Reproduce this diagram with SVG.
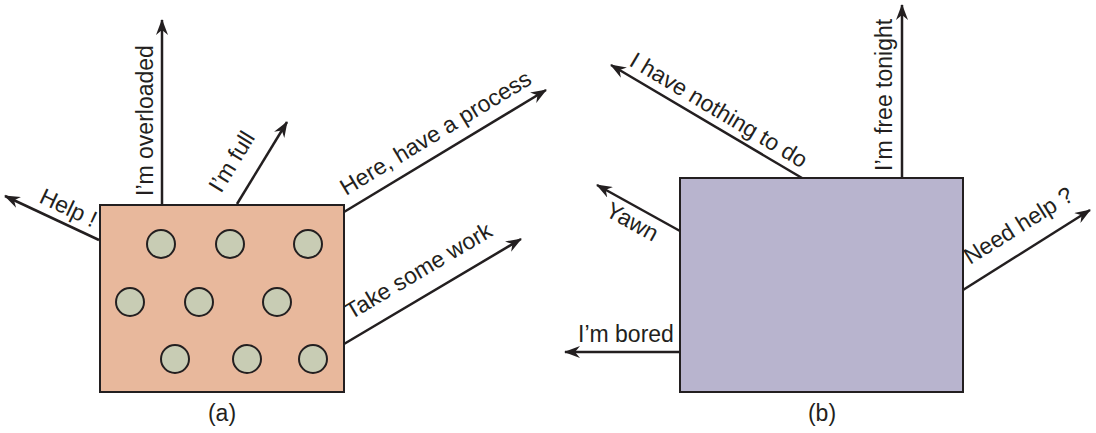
<svg xmlns="http://www.w3.org/2000/svg" width="1096" height="433" viewBox="0 0 1096 433">
<style>
.box{stroke:#231F20;stroke-width:2}
.proc{fill:#C8CCB4;stroke:#231F20;stroke-width:2}
.conn{fill:none;stroke:#231F20;stroke-width:2.5;marker-end:url(#arr)}
text{font-family:"Liberation Sans",Arial,sans-serif;font-size:23px;fill:#231F20}
.cap{text-anchor:middle}
</style>
<defs>
<marker id="arr" markerUnits="userSpaceOnUse" viewBox="0 0 16 12" refX="15" refY="6" markerWidth="16" markerHeight="12" orient="auto">
<path d="M0,0 L16,6 L0,12 L5,6 z" fill="#231F20"/>
</marker>
</defs>
<rect width="1096" height="433" fill="#fff"/>
<g id="nodeA">
<rect class="box" x="100" y="205" width="244" height="187" fill="#E8B89C"/>
<circle class="proc" cx="161" cy="244" r="14"/>
<circle class="proc" cx="230" cy="244" r="14"/>
<circle class="proc" cx="308" cy="244" r="14"/>
<circle class="proc" cx="130" cy="302" r="14"/>
<circle class="proc" cx="199" cy="302" r="14"/>
<circle class="proc" cx="277" cy="302" r="14"/>
<circle class="proc" cx="175" cy="359" r="14"/>
<circle class="proc" cx="247" cy="359" r="14"/>
<circle class="proc" cx="313" cy="359" r="14"/>
<text class="cap" x="222" y="421">(a)</text>
</g>
<g id="nodeB">
<rect class="box" x="680" y="178" width="283" height="214" fill="#B8B4CE"/>
<text class="cap" x="822" y="421">(b)</text>
</g>
<g id="connectors">
<path class="conn" d="M99,240 L5,196"/>
<path class="conn" d="M162,204 L162,20"/>
<path class="conn" d="M237,204 L287,122"/>
<path class="conn" d="M344,212 L546,90"/>
<path class="conn" d="M344,344 L521,239"/>
<path class="conn" d="M802,178 L611,65"/>
<path class="conn" d="M902,178 L902,5"/>
<path class="conn" d="M680,231 L597,185"/>
<path class="conn" d="M963,290 L1090,210"/>
<path class="conn" d="M679,352 L565,352"/>
</g>
<g id="labels">
<text transform="translate(38,202) rotate(25.3)">Help !</text>
<text transform="translate(153,196) rotate(-90)">I’m overloaded</text>
<text transform="translate(221,194) rotate(-58.6)">I’m full</text>
<text transform="translate(346,196) rotate(-31.1)">Here, have a process</text>
<text transform="translate(351,320) rotate(-30.7)">Take some work</text>
<text transform="translate(628,65) rotate(30.8)">I have nothing to do</text>
<text transform="translate(892,171) rotate(-90)">I’m free tonight</text>
<text transform="translate(604,215) rotate(29)">Yawn</text>
<text transform="translate(970,265) rotate(-32)">Need help ?</text>
<text x="578" y="342">I’m bored</text>
</g>
</svg>
